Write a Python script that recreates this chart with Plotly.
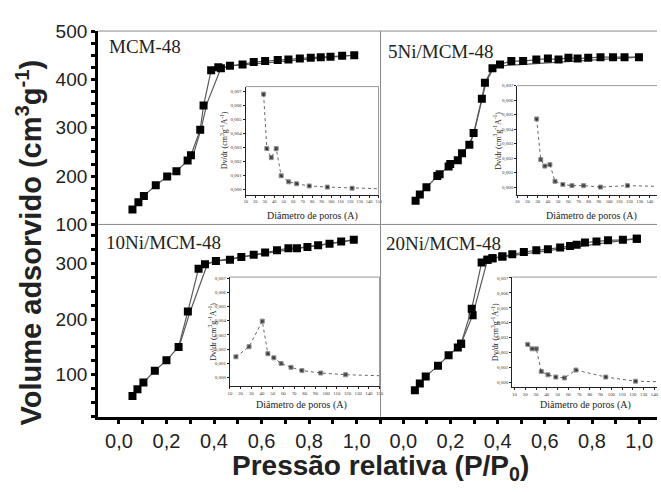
import plotly.graph_objects as go

W, H = 661, 492

# ---------------- main isotherm data (P/P0 , volume) ----------------
mcm_ads_x = [0.057, 0.082, 0.105, 0.155, 0.203, 0.242, 0.289, 0.303, 0.342, 0.356, 0.388, 0.418, 0.429,
             0.467, 0.52, 0.567, 0.615, 0.668, 0.713, 0.761, 0.807, 0.849, 0.89, 0.939, 0.99]
mcm_ads_y = [131, 146, 159, 181, 199, 210, 232, 243, 296, 346, 419, 425, 423,
             428, 431, 436, 438, 440, 441, 443, 445, 446, 447, 449, 450]
mcm_des_x = [0.99, 0.467, 0.429, 0.37, 0.345, 0.315, 0.29]
mcm_des_y = [450, 428, 423, 350, 296, 248, 232]

ni5_ads_x = [0.052, 0.07, 0.098, 0.144, 0.154, 0.192, 0.199, 0.231, 0.249, 0.28, 0.298, 0.333, 0.346,
             0.378, 0.41, 0.458, 0.508, 0.564, 0.613, 0.658, 0.70, 0.739, 0.784, 0.836, 0.889, 0.938, 0.999]
ni5_ads_y = [149, 162, 177, 200, 204, 220, 225, 233, 247, 265, 289, 360, 393,
             423, 431, 438, 438, 441, 443, 441, 445, 443, 445, 446, 446, 446, 446]
ni5_des_x = [0.999, 0.41, 0.382, 0.35, 0.30, 0.28]
ni5_des_y = [446, 428, 423, 393, 289, 265]

ni10_ads_x = [0.057, 0.078, 0.103, 0.151, 0.2, 0.251, 0.29, 0.335, 0.362, 0.408, 0.467, 0.515, 0.567,
              0.615, 0.665, 0.713, 0.749, 0.793, 0.838, 0.886, 0.935, 0.988]
ni10_ads_y = [61.5, 74, 86, 107, 126, 150, 214, 291, 299, 305, 307, 312, 316,
              320, 324, 328, 328, 330, 333, 336, 340, 343]
ni10_des_x = [0.988, 0.408, 0.372, 0.30, 0.255]
ni10_des_y = [343, 305, 299, 214, 153]

ni20_ads_x = [0.049, 0.07, 0.095, 0.147, 0.192, 0.231, 0.245, 0.29, 0.332, 0.357, 0.378, 0.42, 0.462,
              0.511, 0.564, 0.613, 0.665, 0.707, 0.735, 0.77, 0.819, 0.868, 0.931, 0.99]
ni20_ads_y = [72, 84, 97, 116, 135, 149, 156, 219, 302, 307, 310, 313, 317,
              321, 324, 326, 329, 332, 334, 338, 340, 342, 343, 345]
ni20_des_x = [0.99, 0.42, 0.378, 0.357, 0.294, 0.245]
ni20_des_y = [345, 313, 310, 307, 207, 156]

# ---------------- inset pore size distributions (diameter A , dV/dr) ----------------
mcm_psd_x = [28.8, 32.2, 36.9, 42.1, 47.3, 55.2, 63.6, 76.9, 96, 122.1, 150]
mcm_psd_y = [0.0068, 0.0029, 0.00225, 0.0029, 0.00095, 0.00052, 0.00038, 0.00022, 0.00014, 0.00006, 0.00002]

ni5_psd_x = [29, 33, 37, 42, 47, 54.7, 63.6, 75, 91.6, 118, 147]
ni5_psd_y = [0.0047, 0.0019, 0.00145, 0.00155, 0.0004, 0.00018, 0.0001, 0.0001, 0.0, 0.0001, 0.00005]

ni10_psd_x = [15.6, 27.9, 40.3, 45.5, 51.1, 57.9, 67.2, 77.4, 95, 118.2, 150]
ni10_psd_y = [0.00146, 0.00217, 0.00397, 0.00168, 0.00139, 0.00099, 0.00072, 0.00049, 0.00032, 0.0002, 0.00013]

ni20_psd_x = [22.3, 26.3, 30.3, 34.9, 41.1, 48.4, 56.4, 67.1, 94.8, 122.4, 142.4]
ni20_psd_y = [0.00255, 0.00225, 0.00225, 0.00073, 0.00051, 0.00036, 0.0003, 0.00083, 0.00036, 0.00008, 0.00005]

# ---------------- tick labels ----------------
p_tickvals = [0.0, 0.2, 0.4, 0.6, 0.8, 1.0]
p_ticktext = ["0,0", "0,2", "0,4", "0,6", "0,8", "1,0"]
top_tickvals = [100, 200, 300, 400, 500]
bot_tickvals = [100, 200, 300]
d_tickvals = [10, 20, 30, 40, 50, 60, 70, 80, 90, 100, 110, 120, 130, 140, 150]
dv_tickvals = [0.0, 0.001, 0.002, 0.003, 0.004, 0.005, 0.006, 0.007]
dv_ticktext = ["0,000", "0,001", "0,002", "0,003", "0,004", "0,005", "0,006", "0,007"]

panel_names = ["MCM-48", "5Ni/MCM-48", "10Ni/MCM-48", "20Ni/MCM-48"]

SANS = "Arial, Liberation Sans, sans-serif"
SERIF = "Times New Roman, Liberation Serif, serif"


def dx(a, b):
    return [a / W, b / W]


def dy(top, bottom):
    return [1 - bottom / H, 1 - top / H]


fig = go.Figure()

mains = [
    (mcm_ads_x, mcm_ads_y, mcm_des_x, mcm_des_y, "x", "y", False),
    (ni5_ads_x, ni5_ads_y, ni5_des_x, ni5_des_y, "x2", "y2", False),
    (ni10_ads_x, ni10_ads_y, ni10_des_x, ni10_des_y, "x3", "y3", False),
    (ni20_ads_x, ni20_ads_y, ni20_des_x, ni20_des_y, "x4", "y4", True),
]
for ax, ay, ddx, ddy, xa, ya, desmark in mains:
    fig.add_trace(go.Scatter(x=ddx, y=ddy, xaxis=xa, yaxis=ya,
                             mode="lines+markers" if desmark else "lines",
                             line=dict(color="#5a5a5a", width=1.2),
                             marker=dict(symbol="square", size=8, color="black"),
                             showlegend=False, hoverinfo="skip"))
    fig.add_trace(go.Scatter(x=ax, y=ay, xaxis=xa, yaxis=ya, mode="lines+markers",
                             line=dict(color="#5a5a5a", width=1.2),
                             marker=dict(symbol="square", size=8, color="black"),
                             showlegend=False, hoverinfo="skip"))

insets = [
    (mcm_psd_x, mcm_psd_y, "x5", "y5"),
    (ni5_psd_x, ni5_psd_y, "x6", "y6"),
    (ni10_psd_x, ni10_psd_y, "x7", "y7"),
    (ni20_psd_x, ni20_psd_y, "x8", "y8"),
]
for px_, py_, xa, ya in insets:
    sizes = [4] * (len(px_) - 1) + [0]
    fig.add_trace(go.Scatter(x=px_, y=py_, xaxis=xa, yaxis=ya, mode="lines+markers",
                             line=dict(color="#666666", width=1, dash="dot"),
                             marker=dict(symbol="square", size=sizes, color="black"),
                             showlegend=False, hoverinfo="skip"))

hidden = dict(showline=False, ticks="", showticklabels=False, showgrid=False, zeroline=False)
thick_minor_y = dict(ticks="outside", ticklen=4, tickwidth=3, tickcolor="black",
                     tickmode="linear", tick0=0, dtick=25, showgrid=False)
thick_minor_x = dict(ticks="outside", ticklen=4, tickwidth=3, tickcolor="black",
                     tickmode="linear", tick0=0, dtick=0.1, showgrid=False)
left_axis = dict(showline=True, linewidth=3, linecolor="black", ticks="outside", ticklen=4,
                 tickwidth=3, tickcolor="black", showgrid=False, zeroline=False,
                 tickfont=dict(family=SANS, size=19, color="#222"), minor=thick_minor_y)
bottom_axis = dict(showline=True, linewidth=3, linecolor="black", ticks="outside", ticklen=4,
                   tickwidth=3, tickcolor="black", showgrid=False, zeroline=False,
                   tickvals=p_tickvals, ticktext=p_ticktext, tickangle=0,
                   tickfont=dict(family=SANS, size=20, color="#222"), minor=thick_minor_x)

xl = [-0.0875, 1.1005]
xr = [-0.0966, 1.0756]
ytop = [100, 500]
ybot = [24.1, 370.7]

layout = dict(
    width=W, height=H, margin=dict(l=0, r=0, t=0, b=0),
    paper_bgcolor="white", plot_bgcolor="rgba(0,0,0,0)",
    xaxis=dict(domain=dx(97, 382), range=xl, anchor="y", **hidden),
    yaxis=dict(domain=dy(22, 224), range=ytop, anchor="x", tickvals=top_tickvals, **left_axis),
    xaxis2=dict(domain=dx(382, 661), range=xr, anchor="y2", **hidden),
    yaxis2=dict(domain=dy(22, 224), range=ytop, anchor="x2", **hidden),
    xaxis3=dict(domain=dx(97, 382), range=xl, anchor="y3", **bottom_axis),
    yaxis3=dict(domain=dy(224, 425), range=ybot, anchor="x3", tickvals=bot_tickvals, **left_axis),
    xaxis4=dict(domain=dx(382, 661), range=xr, anchor="y4", **bottom_axis),
    yaxis4=dict(domain=dy(224, 425), range=ybot, anchor="x4", **hidden),
)

inset_geo = [
    # xaxis, yaxis, left, right, top, bottom, xrange, yrange, tick font size
    ("xaxis5", "yaxis5", "x5", "y5", 246, 380, 80, 193, [10, 150], [-0.00041, 0.00734], 4.3),
    ("xaxis6", "yaxis6", "x6", "y6", 520, 661, 79, 193, [10, 147], [-0.00053, 0.0070], 4.6),
    ("xaxis7", "yaxis7", "x7", "y7", 230, 381, 279, 393, [10, 150], [-0.00061, 0.00707], 4.8),
    ("xaxis8", "yaxis8", "x8", "y8", 515, 661, 279, 394, [8, 142.4], [-0.00032, 0.00706], 4.8),
]
for xk, yk, xa, ya, l, r, t, b, xr_, yr_, fs in inset_geo:
    small_tick = dict(family=SERIF, size=fs, color="#333")
    layout[xk] = dict(domain=dx(l, r), range=xr_, anchor=ya, showline=True, linecolor="#222",
                      linewidth=1, ticks="outside", ticklen=2, tickwidth=1, tickcolor="#222",
                      tickvals=d_tickvals, tickangle=0, tickfont=small_tick,
                      showgrid=False, zeroline=False)
    layout[yk] = dict(domain=dy(t, b), range=yr_, anchor=xa, showline=True, linecolor="#222",
                      linewidth=1, ticks="outside", ticklen=2, tickwidth=1, tickcolor="#222",
                      tickvals=dv_tickvals, ticktext=dv_ticktext, tickfont=dict(family=SERIF, size=5, color="#333"),
                      showgrid=False, zeroline=False)

fig.update_layout(**layout)

# separators / frames
gray = dict(color="#8a8a8a", width=1)
shapes = [
    dict(type="line", xref="paper", yref="paper", x0=97 / W, x1=1, y0=1 - 22 / H, y1=1 - 22 / H, line=gray),
    dict(type="line", xref="paper", yref="paper", x0=97 / W, x1=1, y0=1 - 224 / H, y1=1 - 224 / H, line=gray),
    dict(type="line", xref="paper", yref="paper", x0=382 / W, x1=382 / W, y0=1 - 425 / H, y1=1 - 22 / H, line=gray),
]
for xk, yk, xa, ya, l, r, t, b, xr_, yr_, fs in inset_geo:
    shapes.append(dict(type="line", xref="paper", yref="paper", x0=l / W, x1=r / W,
                       y0=1 - t / H, y1=1 - t / H, line=dict(color="#999", width=1)))
    if r < 660:
        shapes.append(dict(type="line", xref="paper", yref="paper", x0=r / W, x1=r / W,
                           y0=1 - b / H, y1=1 - t / H, line=dict(color="#999", width=1)))
fig.update_layout(shapes=shapes)

ann = []
ann.append(dict(text="<b>Volume adsorvido (cm<sup>3</sup>g<sup>-1</sup>)</b>", x=27 / W, y=1 - 243 / H,
                xref="paper", yref="paper", textangle=-90, showarrow=False,
                font=dict(family=SANS, size=29, color="#222"), xanchor="center", yanchor="middle"))
ann.append(dict(text="<b>Pressão relativa (P/P<sub>0</sub>)</b>", x=382 / W, y=1 - 478 / H,
                xref="paper", yref="paper", showarrow=False,
                font=dict(family=SANS, size=28, color="#222"), xanchor="center", yanchor="middle"))
label_pos = [(106, 38), (388, 43), (103, 243), (386, 244)]
for name, (lx, ly) in zip(panel_names, label_pos):
    ann.append(dict(text=name, x=lx / W, y=1 - ly / H, xref="paper", yref="paper", showarrow=False,
                    font=dict(family=SERIF, size=19, color="#222"), xanchor="left", yanchor="middle"))
xt_pos = [(313, 215), (595, 215), (302, 413), (589, 413)]
yt_pos = [(224, 136), (500, 136), (212, 336), (497, 336)]
for (tx, ty), (ux, uy) in zip(xt_pos, yt_pos):
    ann.append(dict(text="Diâmetro de poros (A)", x=tx / W, y=1 - ty / H, xref="paper", yref="paper",
                    showarrow=False, font=dict(family=SERIF, size=10, color="#222"),
                    xanchor="center", yanchor="middle"))
    ann.append(dict(text="Dv/dr (cm<sup>3</sup>g<sup>-1</sup>A<sup>-1</sup>)", x=ux / W, y=1 - uy / H,
                    xref="paper", yref="paper", textangle=-90, showarrow=False,
                    font=dict(family=SERIF, size=8, color="#222"), xanchor="center", yanchor="middle"))
fig.update_layout(annotations=ann)

fig.write_html("out.html")
